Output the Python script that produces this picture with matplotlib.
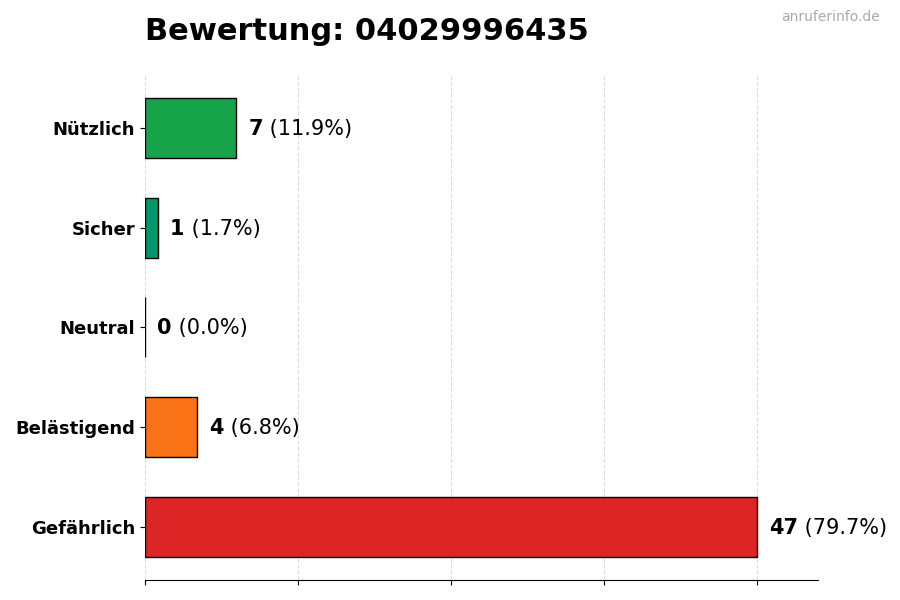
import matplotlib
matplotlib.use('Agg')
import matplotlib.pyplot as plt
import numpy as np

categories = ['Gefährlich', 'Belästigend', 'Neutral', 'Sicher', 'Nützlich']
counts = [47, 4, 0, 1, 7]
percents = [79.7, 6.8, 0.0, 1.7, 11.9]
colors = ['#dc2626', '#f97316', '#9ca3af', '#059669', '#16a34a']
title = 'Bewertung: 04029996435'

fig = plt.figure(figsize=(9, 6), dpi=100)
ax = fig.add_axes([0.161, 0.0333, 0.748, 0.842])

y = np.arange(len(categories))
ax.barh(y, counts, height=0.6, color=colors, edgecolor='black', linewidth=1, zorder=3)

mx = max(counts)
ax.set_xlim(0, mx * 1.1)
ax.set_xticks(np.linspace(0, mx, 5))
ax.set_xticklabels([])
ax.grid(axis='x', linestyle='--', color='#dddddd', linewidth=0.8, zorder=0)
ax.set_yticks(y)
ax.set_yticklabels(categories, fontsize=13, fontweight='bold')

for s in ['top', 'right', 'left']:
    ax.spines[s].set_visible(False)

for yi, c, p in zip(y, counts, percents):
    t = ax.text(c + mx * 0.02, yi - 0.01, str(c), fontsize=15, fontweight='bold',
                va='center', ha='left')
    ax.annotate(' (%.1f%%)' % p, xy=(1, 0), xycoords=t, va='bottom', ha='left',
                fontsize=15)

fig.text(0.161, 0.947, title, fontsize=22, fontweight='bold', va='center', ha='left')
fig.text(0.978, 0.971, 'anruferinfo.de', fontsize=10, color='#aaaaaa', va='center', ha='right')

plt.savefig('out.png', dpi=100)
